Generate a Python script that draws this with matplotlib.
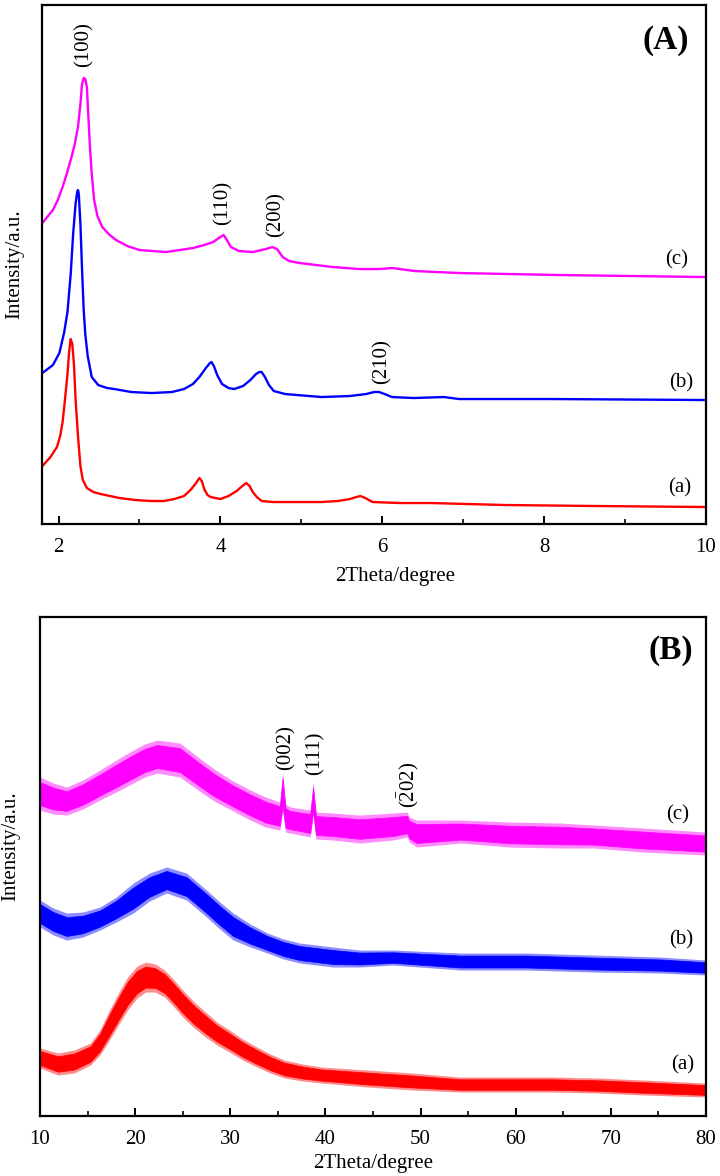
import numpy as np
import matplotlib
matplotlib.use("Agg")
import matplotlib.pyplot as plt

plt.rcParams['font.family'] = ['Liberation Serif', 'DejaVu Serif']
plt.rcParams['mathtext.fontset'] = 'custom'
plt.rcParams['mathtext.rm'] = 'Liberation Serif'

RED = '#ff0000'
BLUE = '#0000ff'
MAG = '#ff00ff'

# ---- panel A : small angle XRD (intensity in arbitrary units, curves already offset)
a_x = [1.80, 1.90, 1.98, 2.02, 2.05, 2.08, 2.11, 2.13, 2.15, 2.17, 2.19, 2.21, 2.24, 2.27,
       2.30, 2.35, 2.43, 2.52, 2.64, 2.75, 2.95, 3.15, 3.30, 3.43, 3.55, 3.63, 3.69, 3.74,
       3.77, 3.80, 3.84, 3.88, 4.00, 4.10, 4.20, 4.27, 4.32, 4.36, 4.40, 4.45, 4.51, 4.65,
       4.80, 5.25, 5.45, 5.60, 5.68, 5.73, 5.79, 5.88, 6.22, 6.60, 7.52, 8.66, 10.0]
a_y = [58, 67, 77, 88, 102, 125, 150, 172, 185, 180, 160, 125, 88, 58,
       44, 36, 32, 30, 28, 26, 24, 23, 23, 25, 28, 34, 40, 46,
       43, 35, 29, 27, 25, 28, 33, 38, 41, 38, 32, 27, 23, 22,
       22, 22, 23, 25, 27, 28, 26, 22, 21, 21, 19, 18, 17]

b_x = [1.80, 1.93, 2.01, 2.07, 2.11, 2.15, 2.18, 2.21, 2.23, 2.24, 2.25, 2.27, 2.29, 2.31,
       2.33, 2.36, 2.41, 2.49, 2.60, 2.69, 2.90, 3.15, 3.40, 3.55, 3.66, 3.74, 3.82, 3.87,
       3.89, 3.92, 3.96, 4.02, 4.10, 4.17, 4.28, 4.37, 4.44, 4.48, 4.51, 4.55, 4.60, 4.66,
       4.80, 5.25, 5.60, 5.80, 5.90, 5.96, 6.03, 6.12, 6.39, 6.76, 6.95, 8.09, 10.0]
b_y = [151, 159, 171, 192, 212, 250, 290, 320, 332, 334, 330, 300, 255, 215,
       190, 168, 147, 139, 136, 135, 132, 131, 132, 135, 140, 147, 156, 161,
       162, 158, 149, 140, 136, 135, 138, 144, 150, 152, 152, 147, 139, 133,
       130, 127, 128, 130, 132, 132, 130, 127, 126, 127, 125, 125, 124]

c_x = [1.81, 1.87, 1.93, 1.99, 2.05, 2.10, 2.16, 2.20, 2.24, 2.27, 2.29, 2.31, 2.33, 2.35,
       2.37, 2.39, 2.41, 2.44, 2.48, 2.54, 2.62, 2.71, 2.85, 3.00, 3.33, 3.66, 3.80, 3.91,
       3.98, 4.04, 4.08, 4.13, 4.23, 4.40, 4.56, 4.64, 4.70, 4.77, 4.85, 4.98, 5.39, 5.72,
       5.95, 6.13, 6.40, 6.96, 8.20, 10.0]
c_y = [302, 308, 314, 324, 337, 350, 367, 380, 397, 420, 440, 446, 445, 437,
       405, 374, 350, 324, 308, 297, 290, 284, 278, 274, 272, 276, 279, 282,
       286, 289, 284, 277, 273, 272, 275, 277, 275, 267, 263, 261, 257, 255,
       255, 256, 253, 251, 249, 247]

# ---- panel B : wide angle XRD, noisy traces given as upper / lower envelope
ba_x = [10.0, 11.9, 13.6, 15.3, 16.3, 17.3, 18.3, 19.2, 20.2, 21.1, 22.1, 23.1, 24.0, 25.0,
        26.2, 27.4, 28.6, 29.9, 31.3, 32.8, 34.2, 35.7, 37.6, 39.6, 44.4, 49.2, 54.1, 58.9,
        63.8, 68.6, 73.5, 80.0]
ba_hi = [68, 63, 66, 73, 86, 106, 124, 139, 150, 154, 152, 146, 137, 126,
         114, 104, 94, 86, 77, 69, 62, 56, 52, 49, 46, 43, 39, 39,
         39, 38, 36, 33]
ba_lo = [48, 41, 43, 51, 61, 76, 92, 106, 118, 124, 124, 119, 110, 99,
         88, 79, 71, 64, 56, 49, 43, 38, 35, 33, 29, 26, 24, 24,
         24, 23, 21, 19]

bb_x = [10.0, 11.4, 12.8, 14.5, 16.3, 18.0, 19.8, 21.5, 23.3, 25.4, 27.5, 28.9, 30.3, 32.1,
        33.9, 35.6, 37.3, 40.8, 43.6, 47.1, 54.2, 61.2, 68.2, 75.2, 80.0]
bb_hi = [216, 208, 203, 204, 209, 219, 233, 243, 249, 243, 226, 214, 203, 192,
         183, 177, 173, 169, 166, 166, 163, 163, 161, 159, 156]
bb_lo = [189, 181, 176, 179, 186, 194, 203, 215, 223, 216, 199, 187, 176, 169,
         163, 157, 153, 149, 149, 151, 146, 146, 144, 143, 141]

bc_x = [10.0, 11.4, 12.8, 14.5, 16.3, 18.0, 19.8, 21.0, 22.3, 24.7, 26.6, 28.3, 30.1, 31.9,
        33.7, 35.2, 35.5, 35.8, 36.3, 38.4, 38.7, 39.0, 40.8, 43.6, 47.1, 48.6, 48.8, 49.6,
        54.2, 59.4, 64.7, 68.2, 73.4, 80.0]
bc_hi = [339, 333, 329, 336, 346, 356, 366, 372, 376, 373, 359, 347, 336, 327,
         319, 314, 344, 312, 309, 306, 334, 304, 303, 301, 303, 304, 299, 296,
         296, 294, 293, 291, 288, 284]
bc_lo = [306, 302, 301, 307, 316, 324, 333, 339, 343, 339, 326, 315, 306, 297,
         289, 286, 305, 284, 283, 279, 300, 277, 276, 273, 276, 279, 274, 269,
         273, 269, 268, 268, 264, 261]

fig = plt.figure(figsize=(7.2, 11.76), dpi=100)
axA = fig.add_axes([0.0583, 0.5544, 0.9222, 0.4413])
axB = fig.add_axes([0.0556, 0.0510, 0.9250, 0.4243])

axA.plot(a_x, a_y, color=RED, lw=1.7)
axA.plot(b_x, b_y, color=BLUE, lw=1.7)
axA.plot(c_x, c_y, color=MAG, lw=1.7)
axA.set_xlim(1.795, 10)
axA.set_ylim(0, 519)
axA.set_xticks([2, 4, 6, 8, 10])
axA.set_xticks([3, 5, 7, 9], minor=True)

# noisy bands: faint outer envelope and a solid core
for xs, hi, lo, col in ((ba_x, ba_hi, ba_lo, RED), (bb_x, bb_hi, bb_lo, BLUE),
                        (bc_x, bc_hi, bc_lo, MAG)):
    hi = np.array(hi, float)
    lo = np.array(lo, float)
    mid = (hi + lo) / 2
    half = (hi - lo) / 2
    axB.fill_between(xs, lo, hi, color=col, alpha=0.45, lw=0)
    axB.fill_between(xs, mid - 0.7 * half, mid + 0.7 * half, color=col, lw=0.5)
axB.set_xlim(10, 80)
axB.set_ylim(0, 499)
axB.set_xticks(np.arange(10, 81, 10))
axB.set_xticks(np.arange(15, 80, 10), minor=True)

for ax in (axA, axB):
    ax.set_yticks([])
    for s in ax.spines.values():
        s.set_linewidth(1.6)
    ax.tick_params(axis='x', which='major', direction='in', length=6, width=1.4,
                   labelsize=15, pad=10)
    ax.tick_params(axis='x', which='minor', direction='in', length=3.5, width=1.2)
    ax.set_xlabel('2Theta/degree', fontsize=15)
    ax.set_ylabel('Intensity/a.u.', fontsize=15)

axA.xaxis.set_label_coords(0.532, -0.083)
axA.yaxis.set_label_coords(-0.026, 0.5)
axB.xaxis.set_label_coords(0.5, -0.076)
axB.yaxis.set_label_coords(-0.030, 0.54)

# peak indices and curve names
kw = dict(rotation=90, ha='center', va='center', fontsize=15)
axA.text(2.32, 479, '(100)', **kw)
axA.text(4.03, 321, '(110)', **kw)
axA.text(4.69, 309, '(200)', **kw)
axA.text(6.00, 162, '(210)', **kw)
axA.text(9.64, 264, '(c)', ha='center', va='center', fontsize=15)
axA.text(9.69, 141, '(b)', ha='center', va='center', fontsize=15)
axA.text(9.67, 36, '(a)', ha='center', va='center', fontsize=15)
axA.text(9.5, 484, '(A)', ha='center', va='center', fontsize=24, fontweight='bold')

axB.text(35.8, 368, '(002)', **kw)
axB.text(38.9, 363, '(111)', **kw)
axB.text(48.7, 331, r'$\mathrm{(\bar{2}02)}$', **kw)
axB.text(77.0, 301, '(c)', ha='center', va='center', fontsize=15)
axB.text(77.4, 176, '(b)', ha='center', va='center', fontsize=15)
axB.text(77.5, 51, '(a)', ha='center', va='center', fontsize=15)
axB.text(76.3, 466, '(B)', ha='center', va='center', fontsize=24, fontweight='bold')

fig.savefig('out.png', dpi=100)
